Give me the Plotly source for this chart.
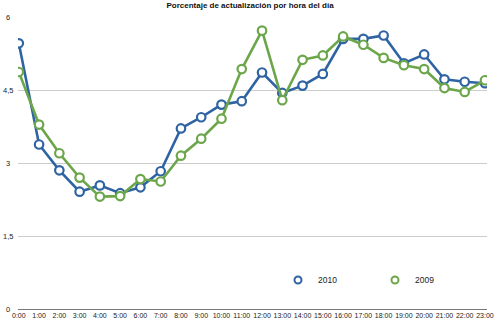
import plotly.graph_objects as go

hours = [f"{h}:00" for h in range(24)]
v2010 = [5.46, 3.38, 2.85, 2.41, 2.54, 2.38, 2.50, 2.83, 3.71, 3.94, 4.20, 4.27,
         4.86, 4.44, 4.59, 4.83, 5.55, 5.55, 5.62, 5.05, 5.23, 4.72, 4.67, 4.64]
v2009 = [4.87, 3.79, 3.20, 2.70, 2.31, 2.32, 2.67, 2.62, 3.15, 3.50, 3.91, 4.93,
         5.72, 4.29, 5.12, 5.21, 5.60, 5.43, 5.16, 5.01, 4.93, 4.54, 4.46, 4.70]
ytick_vals = [0, 1.5, 3, 4.5, 6]
ytick_text = ["0", "1,5", "3", "4,5", "6"]

BLUE = "#2f64a3"
GREEN = "#6ca64a"
FONT = "Liberation Sans, Arial, sans-serif"

fig = go.Figure()
xs = list(range(len(hours)))
for name, vals, col in [("2010", v2010, BLUE), ("2009", v2009, GREEN)]:
    fig.add_trace(go.Scatter(
        x=xs, y=vals, mode="lines+markers", name=name, showlegend=False,
        line=dict(color=col, width=2.6),
        marker=dict(symbol="circle", size=8.5, color="white",
                    line=dict(color=col, width=2.2)),
    ))
for name, col in [("2010", BLUE), ("2009", GREEN)]:
    fig.add_trace(go.Scatter(
        x=[None], y=[None], mode="markers", name=name, showlegend=True,
        marker=dict(symbol="circle", size=7, color="white",
                    line=dict(color=col, width=2)),
    ))

L, R, T, B = 18, 13, 17, 15
W, H = 500, 324
pw = W - L - R
for v, t in zip(ytick_vals, ytick_text):
    fig.add_annotation(x=-(L - 7.5) / pw, xref="paper", y=v, yref="y",
                       text=t, showarrow=False, xanchor="center", yanchor="middle",
                       font=dict(size=7.5, color="#222", family=FONT))

fig.update_layout(
    width=W, height=H,
    margin=dict(l=L, r=R, t=T, b=B, autoexpand=False),
    paper_bgcolor="white", plot_bgcolor="white",
    font=dict(family=FONT, color="#222"),
    title=dict(text="<b>Porcentaje de actualización por hora del día</b>",
               x=0.5, xanchor="center", y=1 - 5 / H, yanchor="middle",
               font=dict(size=8, color="#111", family=FONT)),
    xaxis=dict(range=[-0.04, 23.1], tickmode="array", tickvals=xs, ticktext=hours,
               showgrid=False, zeroline=False, showline=True, linecolor="#777",
               linewidth=1, ticks="", tickfont=dict(size=7, color="#222"),
               tickangle=0, automargin=False, ticklabelstandoff=0),
    yaxis=dict(range=[0, 6], tickmode="array", tickvals=ytick_vals,
               showticklabels=False, showgrid=True, gridcolor="#cccccc",
               gridwidth=1, zeroline=False, automargin=False),
    legend=dict(orientation="h", x=(278 - L) / pw, xanchor="left",
                y=1 - (280 - T) / (H - T - B), yanchor="middle",
                entrywidth=52, entrywidthmode="pixels",
                font=dict(size=8.5, color="#222", family=FONT),
                bgcolor="rgba(0,0,0,0)"),
)

fig.write_html("out.html")
